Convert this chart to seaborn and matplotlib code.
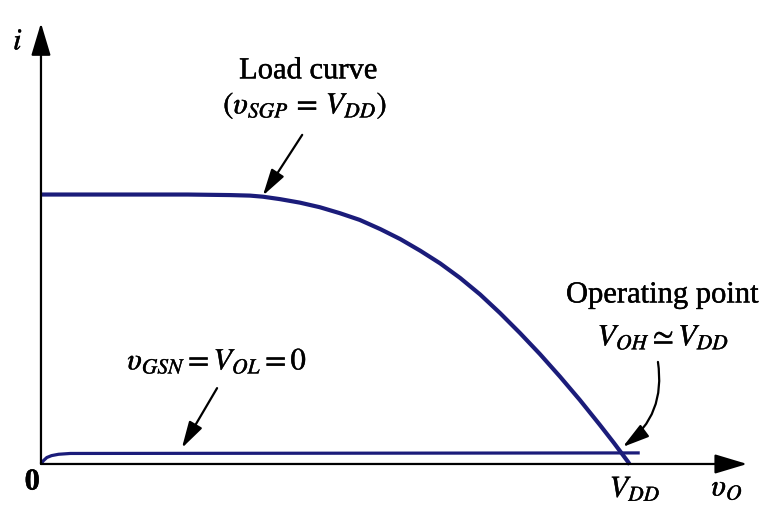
import numpy as np
import pandas as pd
import matplotlib
matplotlib.use("Agg")
import matplotlib.pyplot as plt
import matplotlib.patheffects as pe
import seaborn as sns

# -----------------------------
# Data (v_O / V_DD and i / i_max)
# -----------------------------
load_vo = [0.0, 0.15, 0.25, 0.322, 0.356, 0.378, 0.407, 0.441, 0.475, 0.509,
           0.543, 0.578, 0.612, 0.646, 0.680, 0.714, 0.748, 0.782, 0.816,
           0.850, 0.884, 0.918, 0.952, 0.976, 1.0, 1.003]
load_i = [0.998, 0.998, 0.998, 0.996, 0.994, 0.990, 0.981, 0.968, 0.951, 0.929,
          0.904, 0.870, 0.833, 0.790, 0.743, 0.689, 0.628, 0.559, 0.485,
          0.407, 0.324, 0.237, 0.145, 0.078, 0.008, -0.002]

nmos_vo = [0.0, 0.004, 0.010, 0.018, 0.030, 0.050, 1.02]
nmos_i = [0.0, 0.012, 0.024, 0.031, 0.036, 0.039, 0.041]

curve_color = "#1b1c7a"

# -----------------------------
# Style
# -----------------------------
sns.set_theme(style="white")
plt.rcParams["font.family"] = ["Liberation Serif", "DejaVu Serif"]
plt.rcParams["mathtext.fontset"] = "stix"

fig = plt.figure(figsize=(7.71, 5.05), dpi=100)
ax = fig.add_axes([0, 0, 1, 1])
ax.set_xlim(-0.0698, 1.2436)
ax.set_ylim(-0.1519, 1.7185)
ax.axis("off")

load_df = pd.DataFrame({"vo": load_vo, "i": load_i})
nmos_df = pd.DataFrame({"vo": nmos_vo, "i": nmos_i})

sns.lineplot(data=load_df, x="vo", y="i", sort=False, color=curve_color,
             lw=3.0, ax=ax, solid_capstyle="butt", solid_joinstyle="round")
sns.lineplot(data=nmos_df, x="vo", y="i", sort=False, color=curve_color,
             lw=2.3, ax=ax, solid_capstyle="butt", solid_joinstyle="round")

# axes with arrow heads
axis_arrow = dict(arrowstyle="-|>,head_length=1.0,head_width=0.3",
                  mutation_scale=20, lw=1.6, color="black",
                  shrinkA=0, shrinkB=0)
ax.annotate("", xy=(0, 1.633), xytext=(0, 0), arrowprops=axis_arrow)
ax.annotate("", xy=(1.203, 0), xytext=(0, 0), arrowprops=axis_arrow)

fs = 22
heavy = [pe.withStroke(linewidth=0.3, foreground="black")]


def label(x, y, s, **kw):
    ax.text(x, y, s, fontsize=fs, ha="center", va="center", color="black",
            path_effects=heavy, **kw)


label(-0.039, 1.563, "$i$")
label(-0.015, -0.067, "0", fontweight="bold")
label(1.012, -0.094, "$V_{DD}$")
label(1.169, -0.090, r"$\upsilon_O$")

# annotations
ptr = dict(arrowstyle="-|>,head_length=0.9,head_width=0.25",
           mutation_scale=18, lw=1.6, color="black", shrinkA=0, shrinkB=0)

label(0.455, 1.456, "Load curve")
label(0.450, 1.326, r"$(\upsilon_{SGP}\,=\,V_{DD})$")
ax.annotate("", xy=(0.378, 0.994), xytext=(0.445, 1.219), arrowprops=ptr)

label(1.058, 0.626, "Operating point")
label(1.060, 0.467, r"$V_{OH}\simeq V_{DD}$")
ax.annotate("", xy=(0.991, 0.063), xytext=(1.051, 0.378),
            arrowprops=dict(ptr, connectionstyle="arc3,rad=-0.3"))

label(0.300, 0.378, r"$\upsilon_{GSN}=V_{OL}=0$")
ax.annotate("", xy=(0.240, 0.059), xytext=(0.300, 0.281), arrowprops=ptr)

fig.savefig("out.png", dpi=100)
